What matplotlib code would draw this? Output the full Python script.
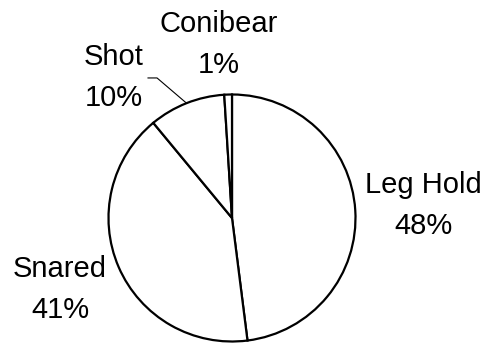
import numpy as np
import matplotlib.pyplot as plt

plt.rcParams['font.family'] = ['Liberation Sans', 'DejaVu Sans']

# trap outcome shares (%), drawn clockwise from 12 o'clock
categories = ['Leg Hold', 'Snared', 'Shot', 'Conibear']
shares = [48, 41, 10, 1]

# label placement: (x centre, baseline of name line) in pie-radius units
label_pos = {
    'Leg Hold': (1.547, 0.202),
    'Snared': (-1.393, -0.478),
    'Shot': (-0.960, 1.239),
    'Conibear': (-0.105, 1.506),
}
line_gap = 0.335

fig = plt.figure(figsize=(4.87, 3.45), dpi=100)
ax = fig.add_axes([0, 0, 1, 1])

wedges, _ = ax.pie(shares, startangle=90, counterclock=False,
                   colors=['white'] * len(shares),
                   wedgeprops=dict(edgecolor='black', linewidth=1.6))

for w, name, val in zip(wedges, categories, shares):
    x, y = label_pos[name]
    ax.text(x, y, name, ha='center', va='baseline', fontsize=21)
    ax.text(x, y - line_gap, f'{val}%', ha='center', va='baseline', fontsize=21)

# leader line from the Shot label to its slice
shot = wedges[categories.index('Shot')]
mid = np.deg2rad((shot.theta1 + shot.theta2) / 2)
edge = (np.cos(mid), np.sin(mid))
ax.plot([edge[0], -0.607, -0.680], [edge[1], 1.134, 1.134],
        color='black', linewidth=0.8)

u = 123.5
ax.set_xlim(-232 / u, (487 - 232) / u)
ax.set_ylim(-(345 - 218) / u, 218 / u)
ax.set_aspect('equal')
ax.axis('off')

fig.savefig('out.png', dpi=100, facecolor='white')
